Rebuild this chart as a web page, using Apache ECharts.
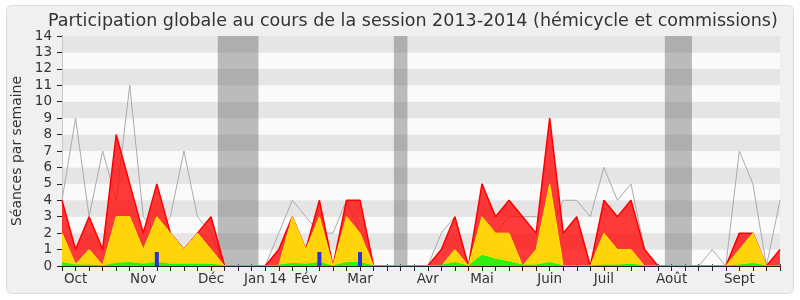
<!DOCTYPE html>
<html>
<head>
<meta charset="utf-8">
<script src="https://cdn.jsdelivr.net/npm/echarts@6/dist/echarts.min.js"></script>
<style>
html,body{margin:0;padding:0;background:#ffffff;}
#chart{width:800px;height:300px;}
</style>
</head>
<body>
<div id="chart"></div>
<script>
// Weekly data, session 2013-2014 (54 weeks, index 0..53)
const tickLabels = ['', 'Oct', '', '', '', '', 'Nov', '', '', '', '', 'Déc', '', '', '', 'Jan 14', '', '', 'Fév', '', '', '', 'Mar', '', '', '', '', 'Avr', '', '', '', 'Mai', '', '', '', '', 'Juin', '', '', '', 'Juil', '', '', '', '', 'Août', '', '', '', '', 'Sept', '', '', ''];
const presences = [4,1,3,1,8,5,2,5,2,1,2,3,0, 0,0,0, 1,3,1,4,0,4,4,0, 0,0,0,0, 1,3,0,5,3,4,3,2,9,2,3,0, 4,3,4,1,0,0,0,0,0,0,2,2,0,1];
const participations = [2,0.1,1,0.05,3,3,1,3,2,1,2,1,0, 0,0,0, 0,3,1,3,0,3,2,0, 0,0,0,0, 0,1,0,3,2,2,0,1,5,0,0,0, 2,1,1,0,0,0,0,0,0,0,1,2,0,0];
const interventions = [0.2,0.05,0.05,0,0.15,0.2,0.1,0.2,0.1,0.1,0.1,0.1,0, 0,0,0, 0.05,0.15,0.1,0.2,0,0.2,0.2,0, 0,0,0,0, 0.05,0.2,0,0.65,0.4,0.25,0.05,0.05,0.2,0,0,0, 0.05,0.05,0.1,0,0,0,0,0,0,0,0.05,0.15,0,0.05];
const mediane = [4,9,3,7,4,11,3,2,3,7,3,2,0, 0,0,0, 2,4,3,2,2,4,2,0, 0,0,0,0, 2,3,0,1,2,3,3,3,2,4,4,3, 6,4,5,1,0,0,0,0,1,0,7,5,0,4];
const questions = [null,null,null,null,null,null,null,0.85,null,null,null,null,null, null,null,null, null,null,null,0.85,null,null,0.85,null, null,null,null,null, null,null,null,null,null,null,null,null,null,null,null,null, null,null,null,null,null,null,null,null,null,null,null,null,null,null];
const vacStart = [11.5, 24.5, 44.5];
const vacEnd = [14.5, 25.5, 46.5];

const pairs = arr => arr.map((v, i) => [i, v]);
const FONT = 'DejaVu Sans';

const chart = echarts.init(document.getElementById('chart'), null, {renderer: 'canvas'});
chart.setOption({
  animation: false,
  backgroundColor: 'transparent',
  graphic: [{
    type: 'rect', z: -10, silent: true,
    shape: {x: 6.5, y: 5.5, width: 787, height: 288, r: 5},
    style: {fill: '#f0f0f0', stroke: '#dddddd', lineWidth: 1}
  }],
  title: {
    text: 'Participation globale au cours de la session 2013-2014 (hémicycle et commissions)',
    left: 43, top: 7,
    textStyle: {fontFamily: FONT, fontSize: 17.5, fontWeight: 'normal', color: '#333333'}
  },
  grid: {left: 62, right: 20, top: 36, bottom: 34, containLabel: false},
  xAxis: [{
    type: 'value', min: 0, max: 53, interval: 1, z: 10,
    axisLine: {show: true, lineStyle: {color: '#222222', width: 1}},
    axisTick: {show: true, length: 5, lineStyle: {color: '#222222'}},
    axisLabel: {
      show: true, margin: 6, fontFamily: FONT, fontSize: 13.5, color: '#333333',
      formatter: v => tickLabels[Math.round(v)] || ''
    },
    splitLine: {show: false}
  }, {
    type: 'value', min: 0, max: 53, interval: 1, position: 'top',
    axisLine: {show: false},
    axisTick: {show: true, length: 2, lineStyle: {color: '#555555'}},
    axisLabel: {show: false},
    splitLine: {show: false}
  }],
  yAxis: [{
    type: 'value', min: 0, max: 14, interval: 1,
    name: 'Séances par semaine', nameLocation: 'middle', nameGap: 36,
    nameTextStyle: {fontFamily: FONT, fontSize: 14, color: '#333333'},
    axisLine: {show: true, lineStyle: {color: '#222222', width: 1}},
    axisTick: {show: true, length: 5, lineStyle: {color: '#222222'}},
    axisLabel: {margin: 10, fontFamily: FONT, fontSize: 13.5, color: '#333333'},
    splitLine: {show: false},
    splitArea: {show: true, areaStyle: {color: ['#fafafa', '#e5e5e5']}}
  }, {
    type: 'value', min: 0, max: 14, interval: 1, position: 'right',
    axisLine: {show: true, lineStyle: {color: '#c8c8c8', width: 1}},
    axisTick: {show: false}, axisLabel: {show: false},
    splitLine: {show: false}, splitArea: {show: false}
  }],
  series: [{
    name: 'Médiane', type: 'line', z: 2, data: pairs(mediane),
    symbol: 'none', lineStyle: {color: '#aaaaaa', width: 1},
    markArea: {
      silent: true,
      itemStyle: {color: 'rgba(85,85,85,0.38)'},
      data: vacStart.map((s, k) => [{xAxis: s}, {xAxis: vacEnd[k]}])
    }
  }, {
    name: 'Présences', type: 'line', z: 3, data: pairs(presences),
    symbol: 'none', lineStyle: {color: '#ff0000', width: 1.5},
    areaStyle: {color: 'rgba(255,0,0,0.77)', opacity: 1, origin: 'start'}
  }, {
    name: 'Participations', type: 'line', z: 4, data: pairs(participations),
    symbol: 'none', lineStyle: {color: '#ffee00', width: 1},
    areaStyle: {color: '#ffd40a', opacity: 1, origin: 'start'}
  }, {
    name: 'Interventions', type: 'line', z: 5, data: pairs(interventions),
    symbol: 'none', lineStyle: {color: '#00ff00', width: 1},
    areaStyle: {color: '#33ee11', opacity: 1, origin: 'start'}
  }, {
    name: 'Questions', type: 'bar', z: 6, data: pairs(questions),
    barWidth: 4, itemStyle: {color: '#2233dd'}
  }]
});
</script>
</body>
</html>
